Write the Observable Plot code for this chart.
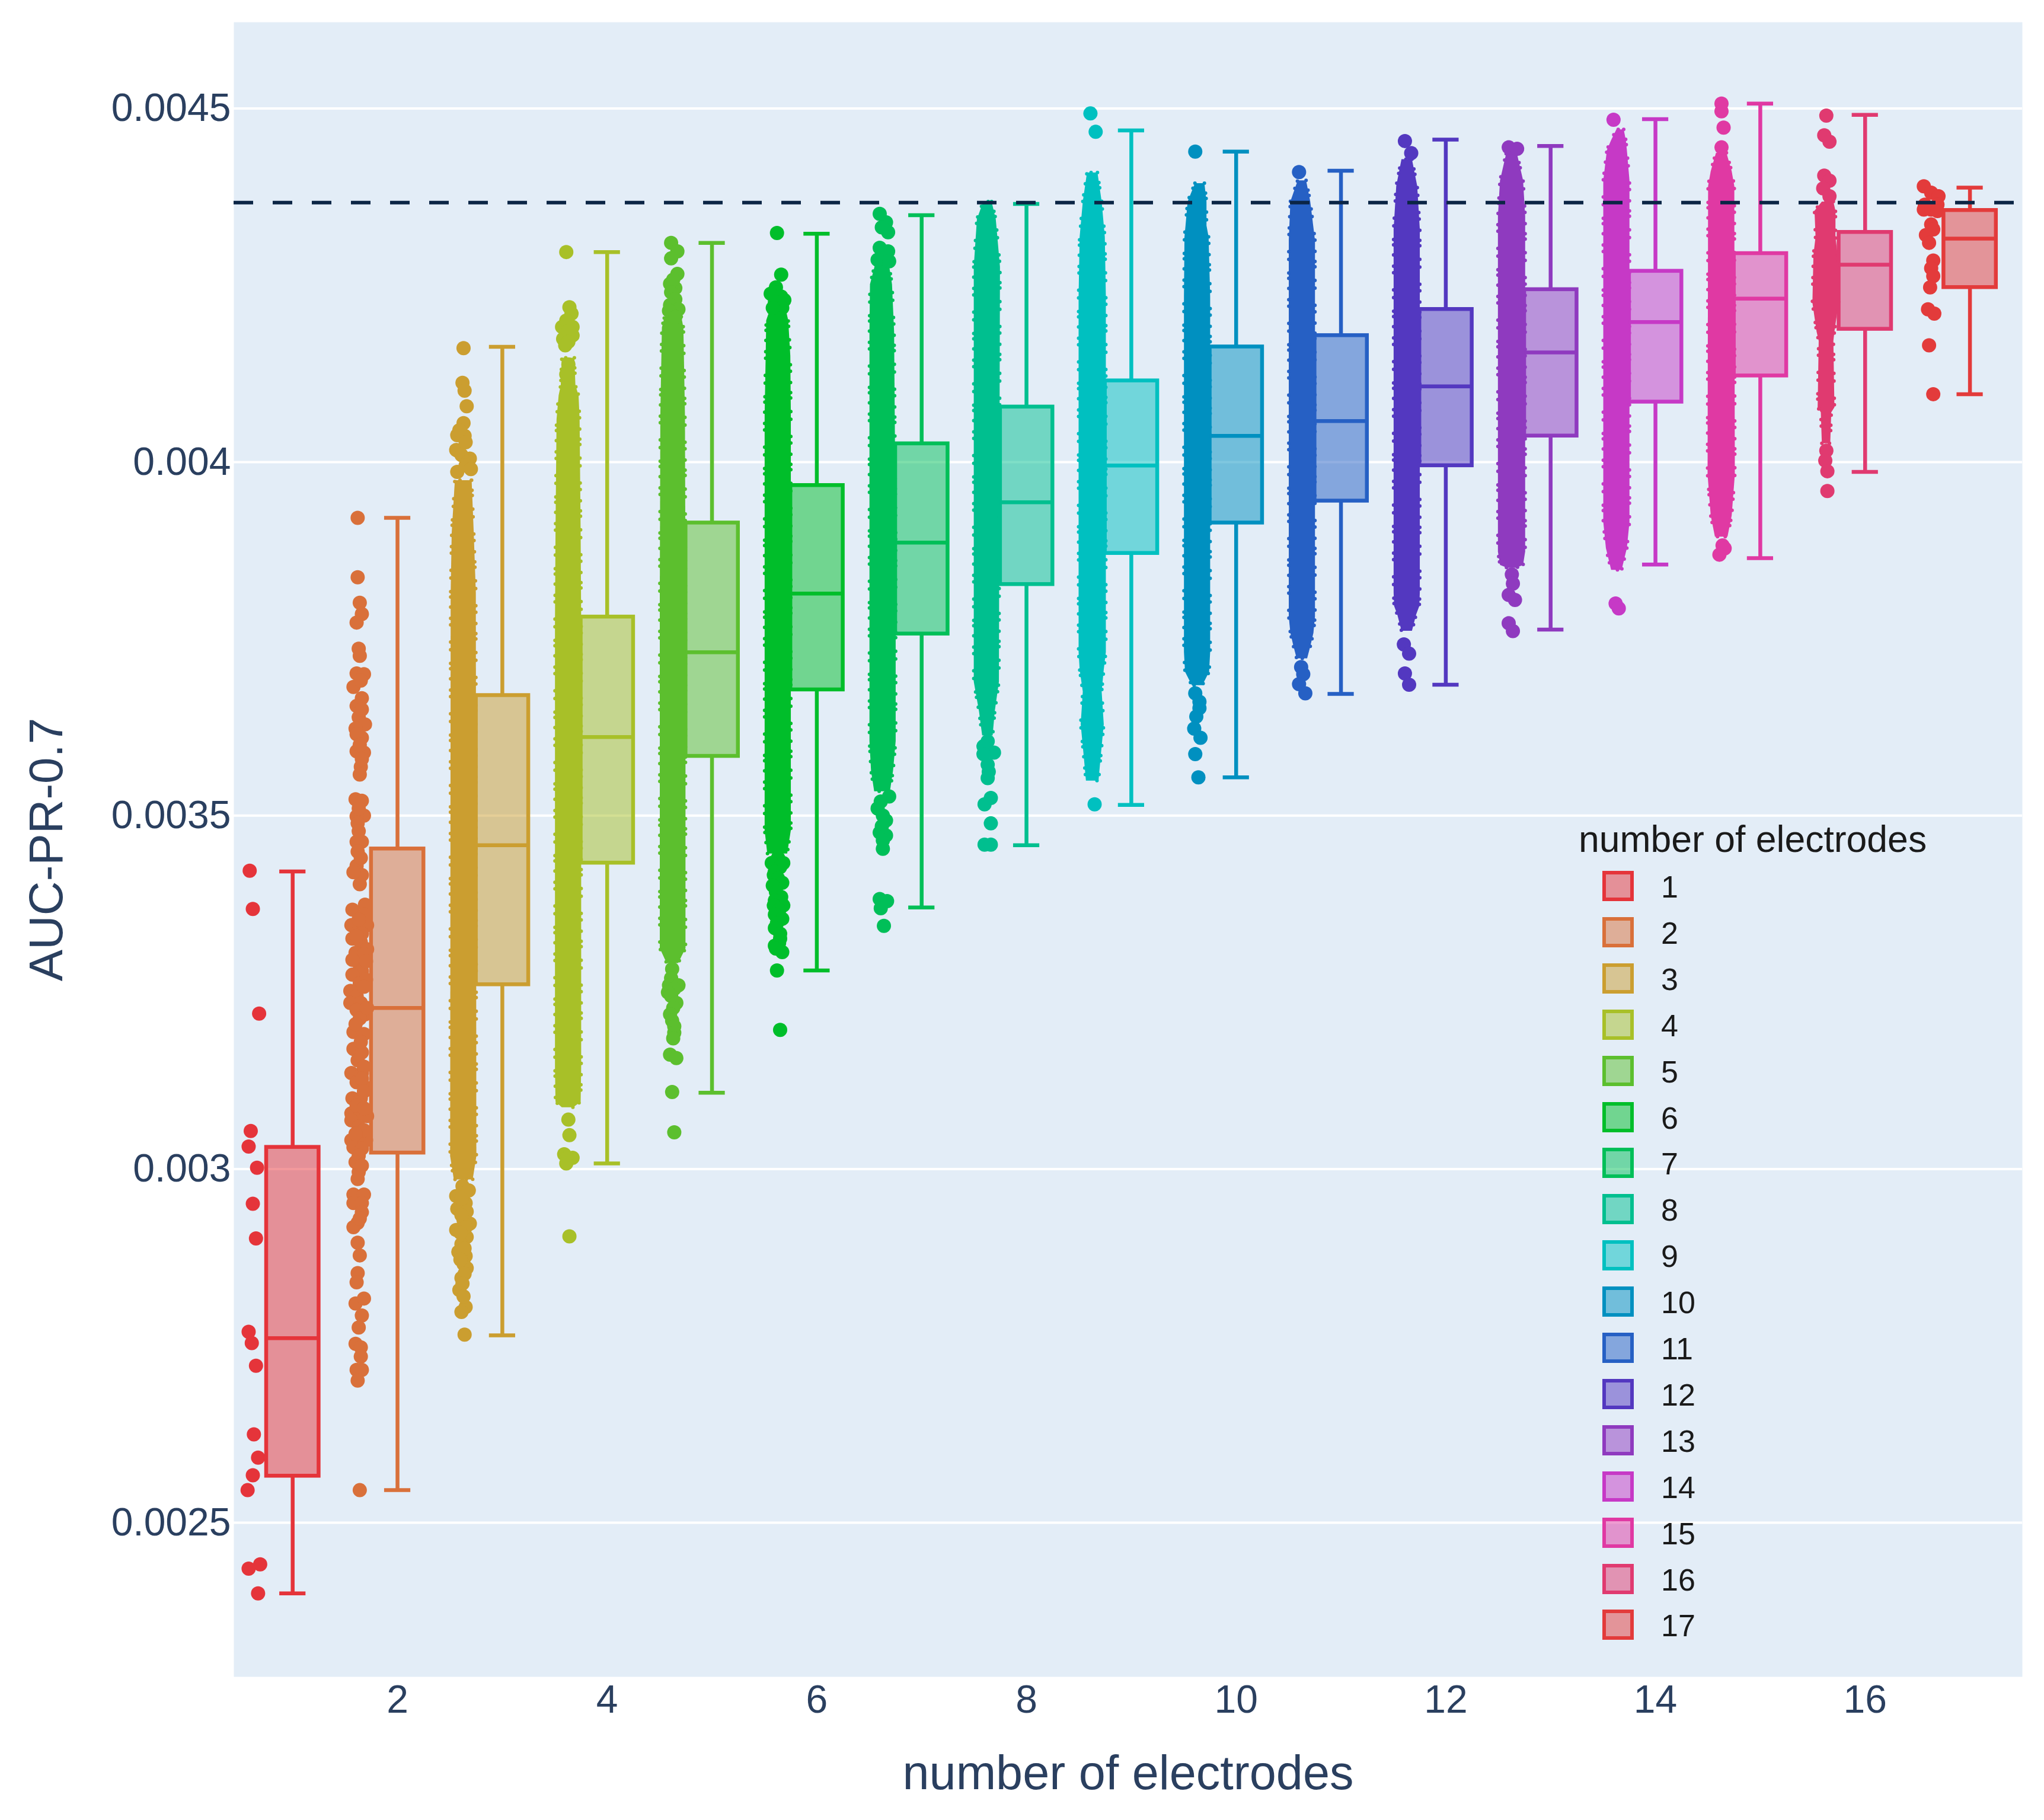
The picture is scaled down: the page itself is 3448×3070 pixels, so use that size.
<!DOCTYPE html>
<html>
<head>
<meta charset="utf-8">
<script src="https://cdn.jsdelivr.net/npm/d3@7"></script>
<script src="https://cdn.jsdelivr.net/npm/@observablehq/plot@0.6"></script>
<style>
html,body{margin:0;padding:0;background:#fff}
#wrap{position:relative;width:3448px;height:3070px;font-family:"Liberation Sans",Arial,sans-serif}
#legend{position:absolute;left:0;top:0;width:0;height:0}
#legend .t{position:absolute;white-space:nowrap;color:#1a1a1a;line-height:1;transform:translateY(-50%)}
#legend .s{position:absolute;box-sizing:border-box;border-style:solid;border-width:6px}
</style>
</head>
<body>
<div id="wrap"><div id="chart"></div><div id="legend"></div></div>
<script>
const electrodes = [1,2,3,4,5,6,7,8,9,10,11,12,13,14,15,16,17];
const colors = ["#e5343a","#d9703a","#cb9e30","#a8c028","#5cbf2e","#00be2a","#00bf58","#00bf8f","#00c0c0","#0090c0","#2660c4","#5338c0","#8f3abf","#c639c6","#e039a3","#e03a70","#e33b3b"];
// box statistics, in units of 0.001
const lower = [2.400,2.546,2.765,3.008,3.108,3.281,3.370,3.458,3.515,3.554,3.672,3.685,3.763,3.855,3.864,3.986,4.096];
const q1 =    [2.566,3.023,3.261,3.433,3.584,3.678,3.757,3.827,3.871,3.914,3.945,3.995,4.037,4.085,4.122,4.188,4.247];
const median =[2.761,3.228,3.458,3.611,3.731,3.814,3.886,3.943,3.995,4.037,4.058,4.107,4.155,4.198,4.231,4.279,4.316];
const q3 =    [3.031,3.453,3.670,3.781,3.914,3.967,4.026,4.078,4.115,4.163,4.179,4.216,4.244,4.270,4.295,4.325,4.356];
const upper = [3.421,3.921,4.163,4.297,4.310,4.323,4.349,4.365,4.469,4.439,4.412,4.456,4.447,4.485,4.507,4.491,4.388];
const referenceLevel = 0.004367;
const yTicks = [0.0025,0.003,0.0035,0.004,0.0045];
const xTicks = [2,4,6,8,10,12,14,16];

// individually readable points: [value (0.001), jitter (x units)]
const strip1 = [[3.422,-.04],[3.368,-.01],[3.220,.05],[3.054,-.03],[3.032,-.05],[3.002,.03],[2.951,-.01],[2.902,.02],[2.770,-.05],[2.754,-.02],[2.722,.02],[2.625,0],[2.592,.04],[2.567,-.01],[2.546,-.06],[2.441,.06],[2.435,-.05],[2.400,.04]];
const strip2 = [[3.921,-.01],[3.837,-.01],[3.801,.01],[3.785,.03],[3.773,-.02],[3.736,0],[3.726,.01],[3.701,-.02],[3.700,.05],[3.682,-.05],[3.691,.02],[3.666,.03],[3.655,-.02],[3.639,0],[3.629,.06],[3.623,-.03],[3.610,.03],[3.591,-.02],[3.589,.05],[3.569,.02],[3.558,.01],[3.523,-.03],[3.521,.03],[3.500,.05],[3.499,-.02],[3.489,-.01],[3.463,-.02],[3.463,.03],[3.449,-.01],[3.429,-.02],[3.416,.03],[3.403,.01],[3.420,-.05],[3.374,.06],[3.367,-.06],[3.360,.05],[3.345,-.07],[3.342,.01],[3.345,.08],[3.326,-.06],[3.321,.02],[3.311,.08],[3.306,-.03],[3.304,.05],[3.288,.01],[3.280,.03],[3.275,-.06],[3.263,.01],[3.252,-.08],[3.245,-.02],[3.235,-.08],[3.235,.02],[3.225,-.02],[3.219,.06],[3.213,.01],[3.194,-.05],[3.191,.05],[3.170,-.05],[3.165,.03],[3.154,-.01],[3.136,-.07],[3.136,.03],[3.123,-.02],[3.116,.06],[3.100,-.06],[3.100,.02],[3.079,-.07],[3.079,.02],[3.075,.08],[3.069,-.07],[3.041,-.07],[3.044,.02],[3.041,.07],[3.031,-.05],[3.029,.03],[3.019,0],[2.996,0],[2.986,-.01],[2.964,-.05],[2.964,.05],[2.952,-.05],[2.952,.03],[2.939,.03],[2.924,-.01],[2.918,-.05],[2.896,-.01],[2.878,.01],[2.853,-.01],[2.840,-.02],[2.810,-.03],[2.817,.05],[2.793,.03],[2.776,0],[2.753,-.03],[2.748,.02],[2.735,.02],[2.716,-.02],[2.716,.03],[2.701,-.01],[2.546,.01],
  [3.353,0],[3.333,.03],[3.330,-.02],[3.296,-.06],[3.294,.07],[3.268,.07],[3.258,.05],[3.228,.08],[3.205,-.03],[3.180,.02],[3.145,.05],[3.128,.03],[3.110,.05],[3.090,-.02],[3.086,.05],[3.060,0],[3.055,.05],[3.050,-.03],[3.010,-.03],[3.005,.03],[3.650,.03],[3.615,-.02],[3.600,.01],[3.580,.03],[3.510,0],[3.478,0],[3.440,.02],[2.930,.01]];
const strip3 = [[4.161,0],[4.112,-.01],[4.101,.01],[4.079,.03],[4.055,0],[4.038,-.06],[4.037,.01],[4.017,-.07],[4.005,.06],[3.986,-.06],[4.045,-.04],[4.028,.02],[4.010,-.02],[4.000,.04],[3.995,.02],[3.990,.07],
  [2.976,-.01],[2.962,-.07],[2.952,.02],[2.944,-.06],[2.928,0],[2.923,.06],[2.914,-.07],[2.904,.03],[2.894,-.02],[2.883,-.05],[2.877,.02],[2.866,0],[2.860,.03],[2.846,-.02],[2.829,-.04],[2.805,.02],[2.798,-.02],[2.766,.01],[2.970,.05],[2.958,-.02],[2.940,.03],[2.935,-.02],[2.918,.02],[2.910,-.03],[2.888,.01],[2.872,-.03],[2.852,.01],[2.838,-.01],[2.820,0]];
const strip4 = [[4.297,-.02],[4.219,.01],[4.210,.03],[4.191,-.06],[4.191,.04],[4.174,-.05],[4.179,.04],[4.200,-.02],[4.185,0],[4.170,0],[4.165,-.03],[4.138,0],[4.124,-.02],[3.070,0],[3.048,.01],[3.021,-.04],[3.016,.04],[3.016,-.01],[3.008,-.02],[2.905,.01]];
const strip5 = [[4.310,-.02],[4.298,.04],[4.288,-.02],[4.266,.04],[4.252,-.03],[4.246,.02],[4.258,0],[4.240,-.02],[4.230,.02],[4.222,-.03],[4.216,.05],[4.214,-.04],[4.205,.02],[3.283,-.01],[3.270,-.02],[3.260,-.04],[3.260,.05],[3.255,.01],[3.250,-.05],[3.245,-.02],[3.235,.03],[3.228,0],[3.219,-.03],[3.210,-.01],[3.202,.01],[3.193,.01],[3.185,0],[3.162,-.03],[3.157,.03],[3.109,-.01],[3.052,.01]];
const strip6 = [[4.324,-.01],[4.265,.03],[4.247,-.02],[4.240,-.02],[4.238,-.07],[4.234,.03],[4.229,.06],[4.226,-.03],[4.218,.04],[4.218,-.05],[3.440,0],[3.433,-.06],[3.433,.05],[3.427,.02],[3.421,-.03],[3.416,-.04],[3.411,0],[3.405,.04],[3.401,-.05],[3.392,-.02],[3.385,.03],[3.380,-.03],[3.373,.05],[3.373,-.04],[3.366,.01],[3.360,-.03],[3.354,.04],[3.348,-.01],[3.341,-.03],[3.333,.02],[3.326,.02],[3.320,.01],[3.316,-.03],[3.312,-.02],[3.307,.04],[3.281,-.01],[3.197,.02]];
const strip7 = [[4.351,-.03],[4.339,.03],[4.325,.05],[4.332,-.01],[4.303,-.03],[4.298,.05],[4.286,-.05],[4.284,.06],[3.527,.06],[3.520,-.02],[3.510,-.05],[3.500,0],[3.493,.03],[3.485,-.01],[3.476,-.03],[3.472,.03],[3.465,0],[3.453,0],[3.382,-.03],[3.379,.04],[3.369,-.02],[3.344,.01]];
const strip8 = [[3.605,0],[3.598,-.04],[3.589,.06],[3.587,-.04],[3.572,0],[3.562,.01],[3.553,0],[3.525,.03],[3.516,-.03],[3.489,.03],[3.459,-.03],[3.459,.03]];
const strip9 = [[4.493,-.02],[4.467,.03],[3.516,.02]];
const strip10 = [[4.439,-.02],[3.673,-.02],[3.661,.02],[3.652,.02],[3.640,-.01],[3.623,-.03],[3.610,.03],[3.587,-.02],[3.554,.01]];
const strip11 = [[4.410,-.03],[3.710,-.01],[3.700,.01],[3.686,-.03],[3.673,.03]];
const strip12 = [[4.454,-.02],[4.437,.04],[3.742,-.03],[3.729,.02],[3.701,-.02],[3.685,.02]];
const strip13 = [[4.445,-.03],[4.443,.05],[3.841,0],[3.828,.01],[3.812,-.03],[3.805,.03],[3.772,-.03],[3.761,.01]];
const strip14 = [[4.484,-.03],[3.800,-.01],[3.793,.02]];
const strip15 = [[4.507,0],[4.496,0],[4.473,.02],[4.445,0],[3.882,.01],[3.878,.03],[3.869,-.02]];
const strip16 = [[4.490,0],[4.462,-.02],[4.453,.03],[4.405,-.02],[4.398,.03],[4.387,-.03],[4.376,.03],[4.016,0],[4.002,-.01],[3.987,.01],[3.959,.01]];
const strip17 = [[4.390,-.07],[4.381,0],[4.376,.07],[4.364,-.06],[4.364,.06],[4.357,-.07],[4.357,0],[4.355,.06],[4.336,0],[4.329,.02],[4.321,-.05],[4.310,-.02],[4.285,.02],[4.274,0],[4.263,.02],[4.247,-.01],[4.216,-.03],[4.210,.03],[4.165,-.02],[4.096,.02]];

// outline of each overplotted mass of points: [value (0.001), left jitter, right jitter]
const core3 = [[3.974,-.08,.08],[3.900,-.11,.10],[3.815,-.12,.12],[3.018,-.125,.125],[2.985,-.09,.09]];
const core4 = [[4.147,-.06,.06],[4.108,-.07,.07],[4.094,-.09,.10],[4.060,-.11,.11],[3.898,-.12,.12],[3.773,-.125,.125],[3.144,-.125,.125],[3.095,-.12,.12],[3.087,-.06,.05]];
const core5 = [[4.205,-.08,.08],[4.190,-.105,.10],[4.066,-.12,.115],[3.815,-.125,.12],[3.312,-.125,.12],[3.291,-.06,.05]];
const core6 = [[4.213,-.08,.08],[4.200,-.11,.10],[4.150,-.115,.12],[4.066,-.125,.125],[3.479,-.125,.125],[3.446,-.10,.09]];
const core7 = [[4.280,-.07,.06],[4.251,-.12,.09],[4.184,-.125,.11],[3.898,-.125,.125],[3.605,-.125,.125],[3.563,-.11,.10],[3.534,-.08,.07]];
const core8 = [[4.368,-.04,.04],[4.343,-.10,.08],[4.276,-.13,.12],[3.689,-.13,.11],[3.647,-.08,.07],[3.613,-.05,.05]];
const core9 = [[4.409,-.05,.05],[4.368,-.09,.09],[4.318,-.12,.12],[4.234,-.13,.13],[3.731,-.13,.13],[3.706,-.12,.11],[3.675,-.09,.09],[3.629,-.11,.11],[3.582,-.08,.08],[3.549,-.06,.06]];
const core10 = [[4.394,-.02,.07],[4.368,-.09,.09],[4.334,-.11,.09],[4.318,-.12,.11],[4.234,-.125,.125],[3.731,-.125,.125],[3.703,-.115,.115],[3.684,-.05,.05]];
const core11 = [[4.398,-.04,.04],[4.368,-.11,.08],[4.313,-.125,.125],[3.781,-.125,.125],[3.758,-.11,.11],[3.739,-.08,.08],[3.722,-.05,.05]];
const core12 = [[4.428,-.05,.05],[4.390,-.10,.10],[4.329,-.125,.125],[3.815,-.125,.125],[3.796,-.12,.12],[3.784,-.09,.09],[3.761,-.05,.05]];
const core13 = [[4.437,-.05,.05],[4.398,-.11,.11],[4.347,-.13,.13],[3.873,-.13,.13],[3.854,-.11,.11],[3.850,-.04,.04]];
const core14 = [[4.470,0,.07],[4.455,-.05,.09],[4.441,-.09,.10],[4.398,-.125,.125],[3.915,-.125,.125],[3.878,-.10,.10],[3.847,-.05,.05]];
const core15 = [[4.437,-.05,.05],[4.411,-.10,.10],[4.390,-.125,.125],[3.982,-.13,.13],[3.924,-.10,.10],[3.894,-.06,.06]];
const core16 = [[4.368,-.04,.07],[4.355,-.11,.09],[4.318,-.10,.09],[4.293,-.12,.11],[4.225,-.13,.12],[4.184,-.09,.08],[4.171,-.07,.07],[4.077,-.08,.08],[4.070,-.05,.05],[4.026,-.04,.04]];

const strips = {1:strip1,2:strip2,3:strip3,4:strip4,5:strip5,6:strip6,7:strip7,8:strip8,9:strip9,10:strip10,11:strip11,12:strip12,13:strip13,14:strip14,15:strip15,16:strip16,17:strip17};
const cores = {3:core3,4:core4,5:core5,6:core6,7:core7,8:core8,9:core9,10:core10,11:core11,12:core12,13:core13,14:core14,15:core15,16:core16};

const stripOffset = -0.37, boxHalf = 0.25, capHalf = 0.125;
const points = electrodes.flatMap(n => strips[n].map(([v,j]) => ({n, x:n+stripOffset+j, y:v/1000})));
const masses = electrodes.flatMap(n => (cores[n]||[]).map(([v,a,b]) => ({n, x1:n+stripOffset+a, x2:n+stripOffset+b, y:v/1000})));
const boxes = electrodes.map((n,i) => ({n, lower:lower[i]/1000, q1:q1[i]/1000, median:median[i]/1000, q3:q3[i]/1000, upper:upper[i]/1000}));

const ink = "#2a3f5f";
const chart = Plot.plot({
  width: 3448, height: 3070,
  marginLeft: 394, marginRight: 37, marginTop: 37, marginBottom: 242,
  style: {fontFamily: '"Liberation Sans",Arial,sans-serif', background: "transparent"},
  x: {domain: [0.439, 17.5], label: null},
  y: {domain: [0.002282, 0.004622], label: null},
  color: {type: "ordinal", domain: electrodes, range: colors},
  marks: [
    Plot.frame({fill: "#e3edf7", stroke: "none"}),
    Plot.ruleY(yTicks, {stroke: "#fff", strokeWidth: 4}),
    Plot.axisY(yTicks, {tickSize: 0, tickPadding: 5, fontSize: 66, fill: ink, tickFormat: d => String(d), label: null}),
    Plot.axisX(xTicks, {tickSize: 0, tickPadding: 14, fontSize: 66, fill: ink, tickFormat: d => String(d), label: null}),
    Plot.text(["number of electrodes"], {frameAnchor: "bottom", dy: 189, fontSize: 81, fill: ink}),
    Plot.text(["AUC-PR-0.7"], {frameAnchor: "left", textAnchor: "middle", dx: -315, rotate: -90, fontSize: 80, fill: ink}),
    Plot.areaX(masses, {x1: "x1", x2: "x2", y: "y", z: "n", fill: "n", stroke: "n", strokeWidth: 6, strokeDasharray: "0 17 0 9 0 23 0 13 0 29 0 11 0 19", strokeLinecap: "round", strokeLinejoin: "round"}),
    Plot.dot(points, {x: "x", y: "y", r: 12, fill: "n", stroke: "none"}),
    Plot.ruleX(boxes, {x: "n", y1: "q3", y2: "upper", stroke: "n", strokeWidth: 6.5}),
    Plot.ruleX(boxes, {x: "n", y1: "lower", y2: "q1", stroke: "n", strokeWidth: 6.5}),
    Plot.ruleY(boxes, {y: "upper", x1: d => d.n - capHalf, x2: d => d.n + capHalf, stroke: "n", strokeWidth: 6.5}),
    Plot.ruleY(boxes, {y: "lower", x1: d => d.n - capHalf, x2: d => d.n + capHalf, stroke: "n", strokeWidth: 6.5}),
    Plot.rect(boxes, {x1: d => d.n - boxHalf, x2: d => d.n + boxHalf, y1: "q1", y2: "q3", fill: "n", fillOpacity: 0.5, stroke: "n", strokeWidth: 6.5}),
    Plot.ruleY(boxes, {y: "median", x1: d => d.n - boxHalf, x2: d => d.n + boxHalf, stroke: "n", strokeWidth: 6.5}),
    Plot.ruleY([referenceLevel], {stroke: "#0b2545", strokeWidth: 6, strokeDasharray: "33 33"})
  ]
});
document.getElementById("chart").appendChild(chart);

const legend = document.getElementById("legend");
const title = document.createElement("div");
title.className = "t"; title.textContent = "number of electrodes";
title.style.cssText = "left:2663px;top:1415px;font-size:62.5px";
legend.appendChild(title);
electrodes.forEach((n,i) => {
  const top = 1469 + i * 77.9;
  const s = document.createElement("div");
  s.className = "s";
  s.style.cssText = `left:2703px;top:${top}px;width:53px;height:51px;border-color:${colors[i]};background:${d3.color(colors[i]).copy({opacity:.5})}`;
  legend.appendChild(s);
  const t = document.createElement("div");
  t.className = "t"; t.textContent = n;
  t.style.cssText = `left:2802px;top:${top+27}px;font-size:52px`;
  legend.appendChild(t);
});
</script>
</body>
</html>
